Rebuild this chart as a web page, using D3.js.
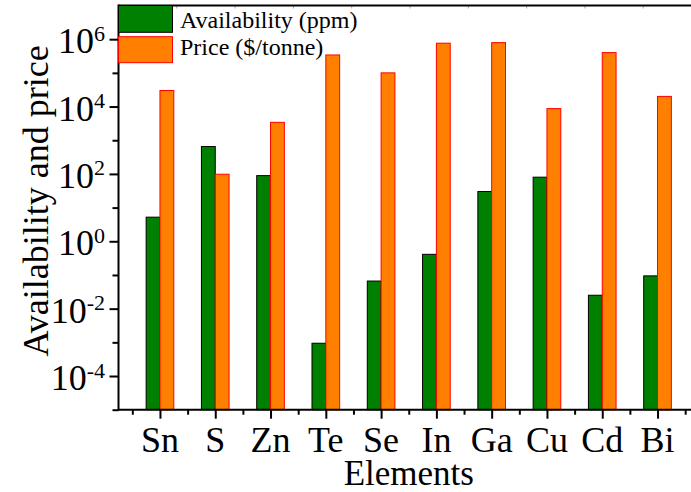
<!DOCTYPE html>
<html>
<head>
<meta charset="utf-8">
<script src="https://cdn.jsdelivr.net/npm/d3@7"></script>
<style>
  html, body { margin: 0; padding: 0; background: #fff; }
  svg { display: block; }
</style>
</head>
<body>
<svg id="chart" width="691" height="492"></svg>
<script>
// Crustal availability (ppm) and market price ($/tonne) per element
const elements = ["Sn", "S", "Zn", "Te", "Se", "In", "Ga", "Cu", "Cd", "Bi"];
const availability = [5.2, 650, 89, 0.00094, 0.066, 0.41, 30, 80, 0.025, 0.094];
const price = [30000, 98, 3400, 340000, 100000, 760000, 790000, 8700, 400000, 20000];

// Decade exponents: labelled (even) and unlabelled (odd)
const majorExp = [-4, -2, 0, 2, 4, 6];
const minorExp = [-5, -3, -1, 1, 3, 5];

const legendLabels = ["Availability (ppm)", "Price ($/tonne)"];

const serif = "'Liberation Serif', Tinos, 'Times New Roman', 'DejaVu Serif', serif";

const svg = d3.select("#chart");

const plotLeft = 118.5, plotBottom = 409.7, plotTop = 5.5;

// Category axis: element i sits at i + 1
const x = d3.scaleLinear().domain([0.25, 10.75]).range([plotLeft, 699]);
const y = d3.scaleLog().domain([1e-5, 1e7]).range([plotBottom, plotTop]);

const barW = 0.25;
const green = "#008000", orange = "#FF8000";

// Bars
const g = svg.append("g");
g.selectAll("rect.avail").data(availability).join("rect")
  .attr("class", "avail")
  .attr("x", (d, i) => x(i + 1 - barW))
  .attr("width", x(1) - x(1 - barW))
  .attr("y", d => y(d))
  .attr("height", d => y(1e-5) - y(d))
  .attr("fill", green).attr("stroke", "#000").attr("stroke-width", 1);

g.selectAll("rect.price").data(price).join("rect")
  .attr("class", "price")
  .attr("x", (d, i) => x(i + 1))
  .attr("width", x(1 + barW) - x(1))
  .attr("y", d => y(d))
  .attr("height", d => y(1e-5) - y(d))
  .attr("fill", orange).attr("stroke", "#FF0000").attr("stroke-width", 1);

// Left axis: major and minor ticks
const yMajor = d3.axisLeft(y).tickValues(majorExp.map(e => Math.pow(10, e))).tickSize(9).tickFormat(() => "");
const yMinor = d3.axisLeft(y).tickValues(minorExp.map(e => Math.pow(10, e))).tickSize(6).tickFormat(() => "");
[yMajor, yMinor].forEach(ax => {
  const a = svg.append("g").attr("transform", `translate(${plotLeft},0)`).call(ax);
  a.select(".domain").remove();
  a.selectAll("line").attr("stroke", "#000").attr("stroke-width", 2);
});

// Left axis labels as 10 with superscript exponent
majorExp.forEach(e => {
  const t = svg.append("text")
    .attr("x", 105)
    .attr("y", y(Math.pow(10, e)) + 14)
    .attr("text-anchor", "end")
    .attr("font-family", serif)
    .attr("font-size", 36);
  t.append("tspan").text("10");
  t.append("tspan").attr("dy", -12.5).attr("font-size", 22).text(String(e));
});

// Bottom axis: ticks at elements, minor ticks between
const xMajor = d3.axisBottom(x).tickValues(d3.range(1, 11)).tickSize(9).tickFormat(() => "");
const xMinor = d3.axisBottom(x).tickValues(d3.range(0.5, 11, 1)).tickSize(5).tickFormat(() => "");
[xMajor, xMinor].forEach(ax => {
  const a = svg.append("g").attr("transform", `translate(0,${plotBottom})`).call(ax);
  a.select(".domain").remove();
  a.selectAll("line").attr("stroke", "#000").attr("stroke-width", 2);
});

svg.append("g").selectAll("text").data(elements).join("text")
  .attr("x", (d, i) => x(i + 1))
  .attr("y", 452)
  .attr("text-anchor", "middle")
  .attr("font-family", serif)
  .attr("font-size", 36)
  .text(d => d);

// Top axis faint ticks
const xTop = d3.scaleLinear().domain([0, 10]).range([plotLeft, 701.5]);
svg.append("g").selectAll("line").data(d3.range(1, 10)).join("line")
  .attr("x1", d => xTop(d)).attr("x2", d => xTop(d))
  .attr("y1", plotTop).attr("y2", plotTop + 3)
  .attr("stroke", "#aaa").attr("stroke-width", 1);

// Frame lines
svg.append("line").attr("x1", plotLeft).attr("x2", 700).attr("y1", plotTop).attr("y2", plotTop)
  .attr("stroke", "#000").attr("stroke-width", 2);
svg.append("line").attr("x1", plotLeft).attr("x2", 700).attr("y1", plotBottom).attr("y2", plotBottom)
  .attr("stroke", "#000").attr("stroke-width", 2);
svg.append("line").attr("x1", plotLeft).attr("x2", plotLeft).attr("y1", plotTop - 1).attr("y2", plotBottom + 1)
  .attr("stroke", "#000").attr("stroke-width", 2);

// Legend
const legend = svg.append("g");
const swatches = [
  { y0: 5.5, y1: 32.3, fill: green, stroke: "#000" },
  { y0: 36.7, y1: 62.7, fill: orange, stroke: "#FF0000" }
];
swatches.forEach((s, i) => {
  legend.append("rect")
    .attr("x", plotLeft).attr("y", s.y0)
    .attr("width", 172.5 - plotLeft).attr("height", s.y1 - s.y0)
    .attr("fill", s.fill).attr("stroke", s.stroke).attr("stroke-width", 1);
  legend.append("text")
    .attr("x", 180).attr("y", i === 0 ? 27.5 : 55)
    .attr("font-family", serif)
    .attr("font-size", 24)
    .text(legendLabels[i]);
});

// Axis titles
svg.append("text")
  .attr("x", x(5.5)).attr("y", 485)
  .attr("text-anchor", "middle")
  .attr("font-family", serif)
  .attr("font-size", 35)
  .text("Elements");

svg.append("text")
  .attr("transform", "rotate(-90)")
  .attr("x", -201).attr("y", 48)
  .attr("text-anchor", "middle")
  .attr("font-family", serif)
  .attr("font-size", 36)
  .text("Availability and price");
</script>
</body>
</html>
